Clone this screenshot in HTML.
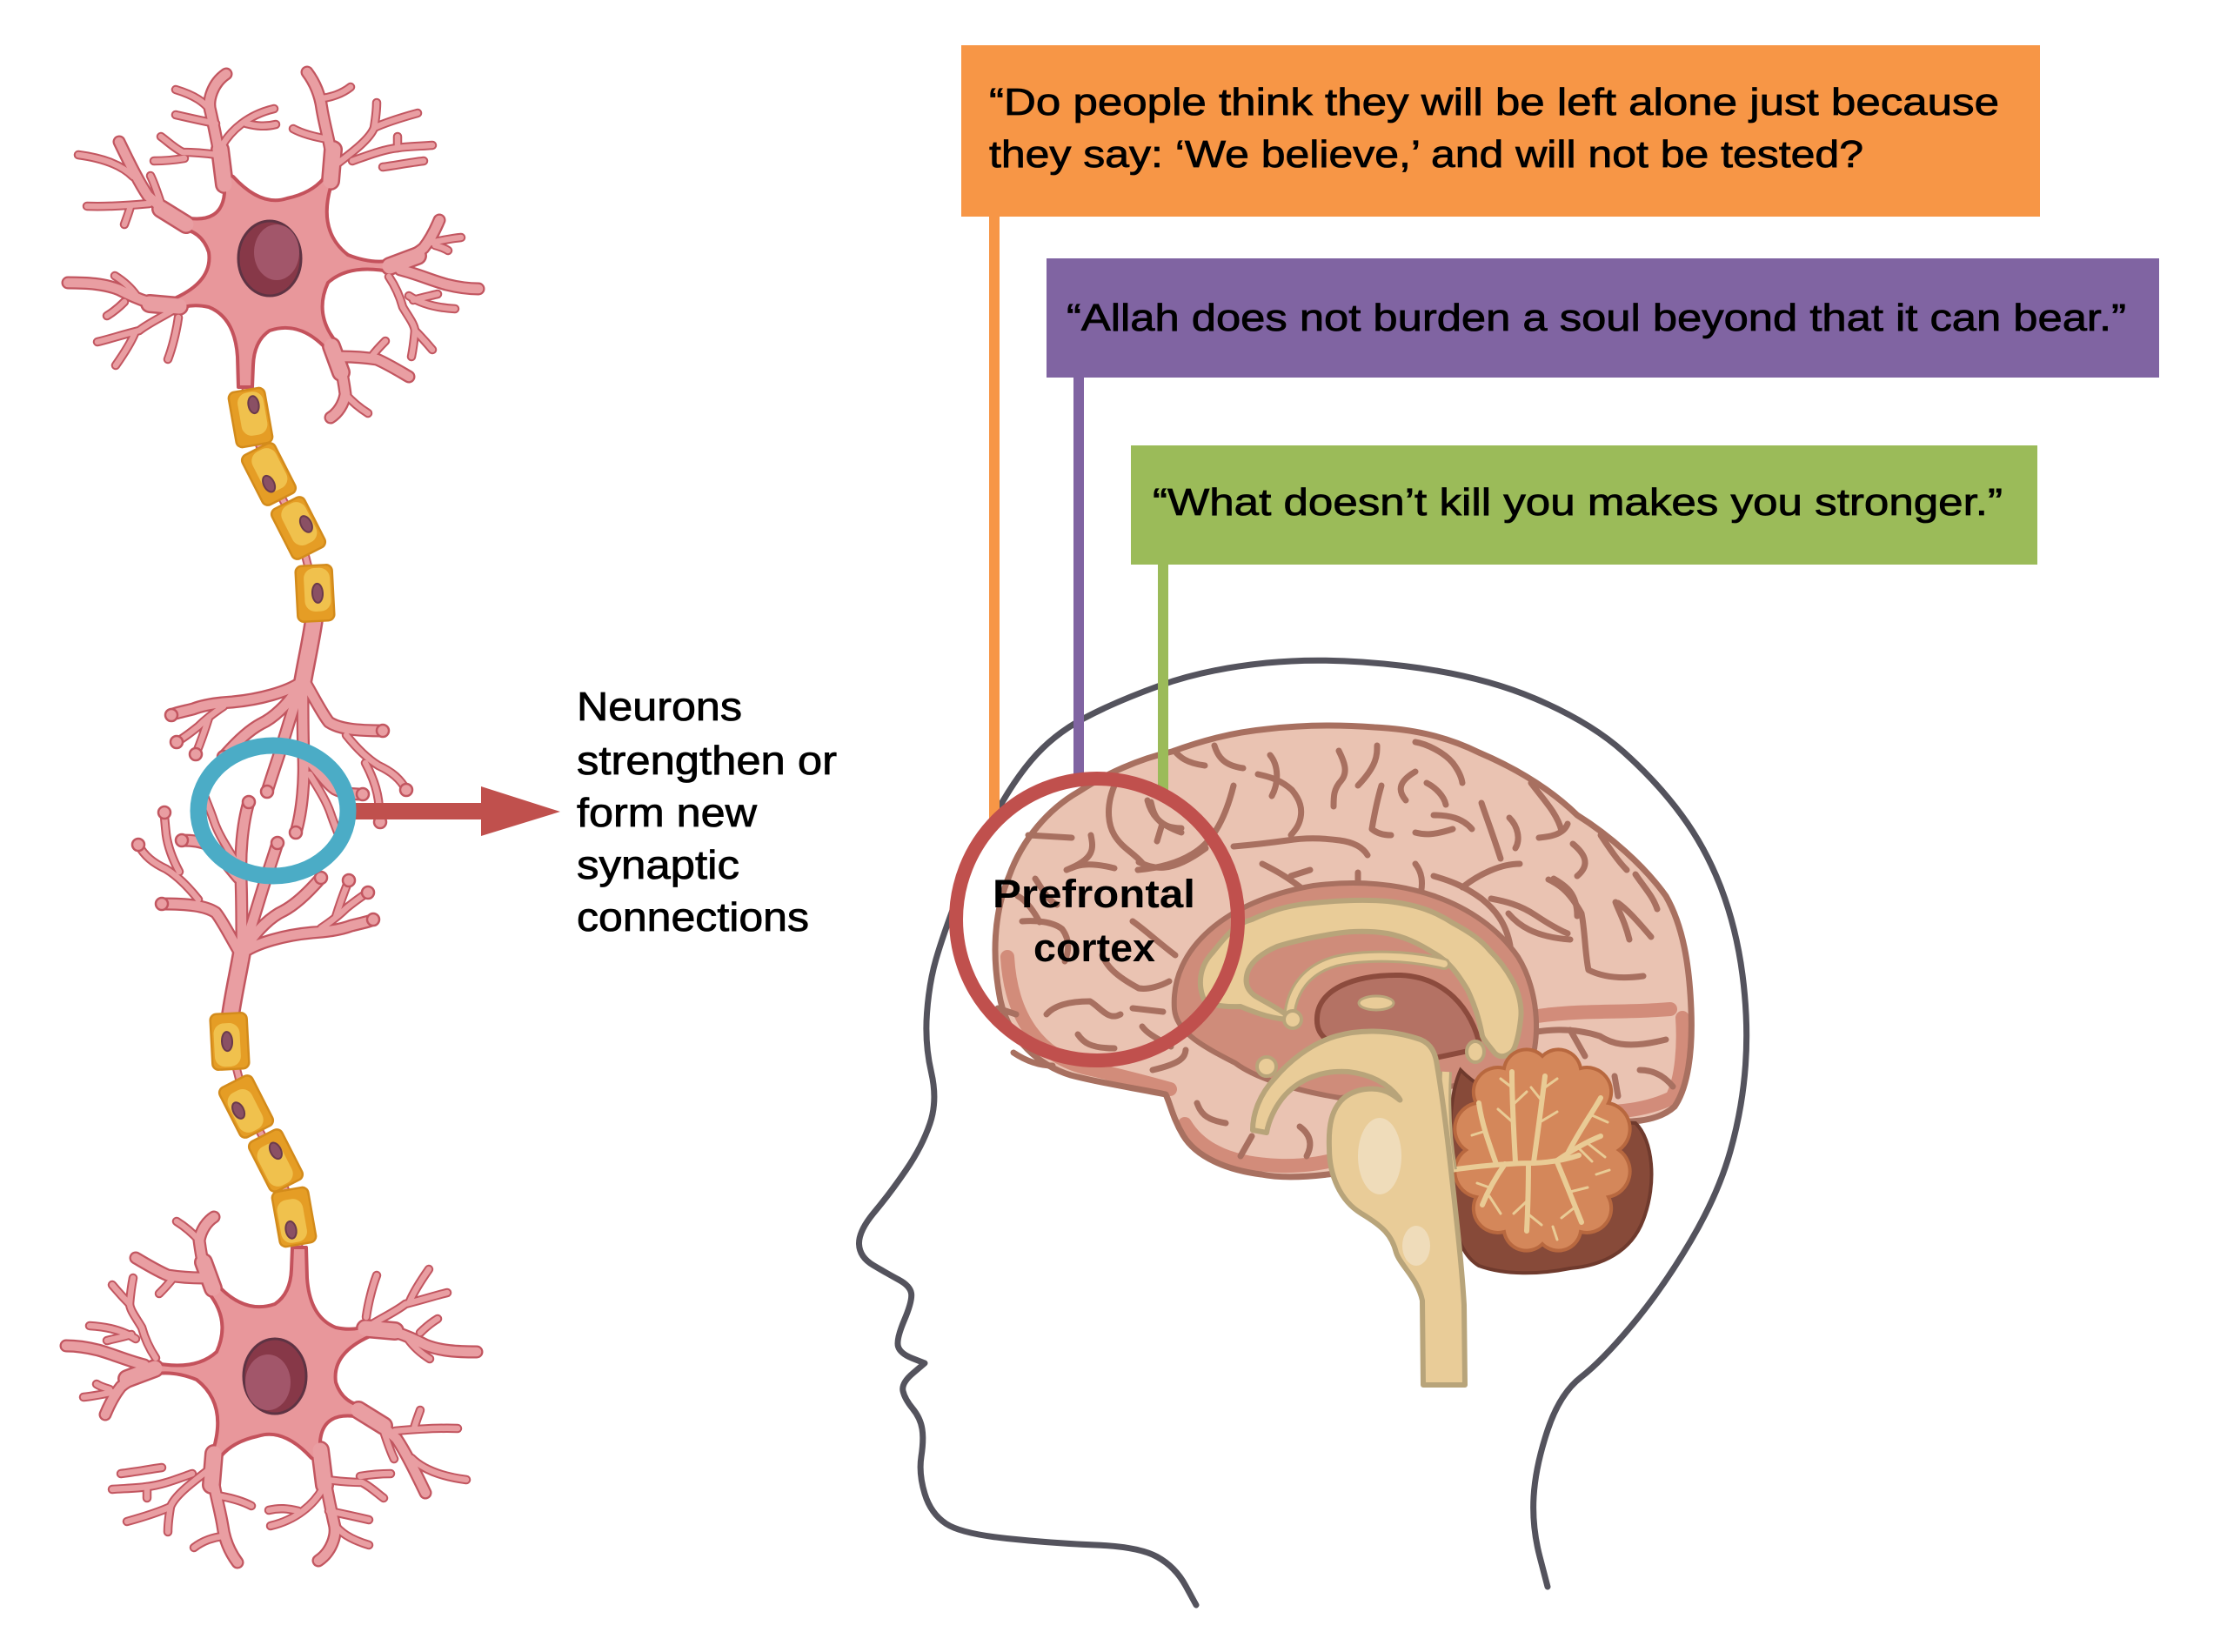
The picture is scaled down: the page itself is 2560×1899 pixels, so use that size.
<!DOCTYPE html>
<html>
<head>
<meta charset="utf-8">
<style>
html,body{margin:0;padding:0;background:#fff;}
svg{display:block;}
text{font-family:"Liberation Sans","DejaVu Sans",sans-serif;}
</style>
</head>
<body>
<svg width="2560" height="1899" viewBox="0 0 2560 1899" xmlns="http://www.w3.org/2000/svg" xmlns:xlink="http://www.w3.org/1999/xlink">
<rect x="0" y="0" width="2560" height="1899" fill="#ffffff"/>
<defs>
  <g id="dSide" fill="none" stroke-linecap="round" stroke-linejoin="round">
    <path d="M242,127 C235,118 225,110 202,103"/>
    <path d="M248,142 C238,140 228,138 202,132"/>
    <path d="M255,168 C265,150 285,132 315,125"/>
    <path d="M283,142 C295,145 305,146 317,143"/>
    <path d="M250,178 C235,176 222,175 210,175 C200,170 192,162 185,157"/>
    <path d="M212,182 C200,184 190,185 177,185"/>
    <path d="M370,113 C380,112 393,108 403,100"/>
    <path d="M377,160 C365,158 350,155 337,148"/>
    <path d="M388,188 C405,175 425,160 430,147 C432,135 433,125 433,118"/>
    <path d="M430,147 C445,140 462,135 480,130"/>
    <path d="M405,185 C425,178 440,172 457,170 C470,168 485,168 497,167"/>
    <path d="M457,170 L457,157"/>
    <path d="M440,192 C455,190 470,187 487,185"/>
    <path d="M153,203 C140,190 120,182 90,178"/>
    <path d="M172,234 C150,236 125,238 100,237"/>
    <path d="M150,237 C148,245 145,252 143,258"/>
    <path d="M187,240 C182,225 178,212 173,202"/>
    <path d="M157,340 C150,330 140,322 132,317"/>
    <path d="M143,347 C135,355 128,360 123,363"/>
    <path d="M198,357 C185,365 170,372 160,380 C140,385 125,390 112,393"/>
    <path d="M155,383 C150,395 140,410 133,420"/>
    <path d="M205,365 C203,380 198,400 193,413"/>
    <path d="M490,280 C505,277 518,274 530,273"/>
    <path d="M500,282 C507,284 512,286 515,288"/>
    <path d="M470,340 C485,350 505,354 523,355"/>
    <path d="M475,345 C485,342 495,340 503,338"/>
    <path d="M397,453 C405,462 415,470 423,475"/>
    <path d="M427,410 C433,402 438,397 443,392"/>
    <path d="M477,380 C485,388 492,396 497,402"/>
    <path d="M447,318 C455,330 460,342 463,353 C470,365 476,372 477,380 C476,392 475,400 473,410"/>
    <path d="M257,812 C245,820 235,828 228,835 C218,843 208,850 203,853"/>
    <path d="M240,825 C236,838 232,850 225,867"/>
    <path d="M398,845 C410,860 422,872 435,880 C450,887 460,895 467,908"/>
    <path d="M420,877 C428,892 433,905 435,920 C436,930 437,938 437,945"/>
    <path d="M356,890 C365,905 375,920 380,935 C385,950 390,960 393,970"/>
  </g>
  <g id="dMain" fill="none" stroke-linecap="round" stroke-linejoin="round">
    <path d="M256,200 C252,175 247,150 242,128 C238,115 245,95 260,85"/>
    <path d="M380,200 C385,180 375,155 370,125 C368,110 362,95 353,83"/>
    <path d="M210,258 C195,245 180,235 170,225 C160,210 150,190 137,163"/>
    <path d="M200,352 C180,352 160,345 137,333 C120,326 100,325 78,325"/>
    <path d="M452,303 C465,298 478,293 487,285 C495,275 500,265 505,253"/>
    <path d="M460,310 C480,315 495,322 513,327 C525,330 538,332 550,332"/>
    <path d="M380,395 C390,410 394,430 397,453 C395,465 388,475 380,480"/>
    <path d="M393,410 C405,410 420,411 433,413 C445,418 458,426 470,433"/>
    <path d="M345,785 C330,795 300,804 267,807 C250,808 235,810 222,815 C210,818 200,820 197,822"/>
    <path d="M340,795 C330,810 315,825 300,832 C285,840 270,855 257,870"/>
    <path d="M342,800 C335,820 328,845 320,870 C315,885 310,900 307,910"/>
    <path d="M348,790 C348,820 348,845 349,870 C350,895 348,930 340,957"/>
    <path d="M350,783 C360,800 370,820 378,830 C390,838 410,840 440,840"/>
    <path d="M352,870 C365,885 375,900 385,907 C395,912 405,913 417,913"/>
  </g>
  <g id="dTrunk" fill="none" stroke-linecap="round" stroke-linejoin="round">
    <path d="M258,212 L253,172"/>
    <path d="M380,208 L383,172"/>
    <path d="M214,258 L185,240"/>
    <path d="M206,352 L172,349"/>
    <path d="M448,306 L480,294"/>
    <path d="M381,398 L392,428"/>
    <path d="M361,712 C357,740 351,765 347,790"/>
  </g>
  <g id="seg">
    <rect x="-21" y="-32" width="42" height="64" rx="7" fill="#e59d25" stroke="#d38b1b" stroke-width="2.5"/>
    <rect x="-12" y="-29" width="30" height="50" rx="12" fill="#f0c14d"/>
  </g>
  <g id="half">
    <path d="M282,443 L288,480 L309,545 L343,607 L362,682 L361,715" fill="none" stroke="#c25660" stroke-width="10" stroke-linecap="round"/>
    <path d="M282,443 L288,480 L309,545 L343,607 L362,682 L361,715" fill="none" stroke="#e99ea2" stroke-width="6" stroke-linecap="round"/>
    <use href="#dSide" stroke="#c25660" stroke-width="10.5"/>
    <use href="#dMain" stroke="#c25660" stroke-width="15"/>
    <use href="#dTrunk" stroke="#c25660" stroke-width="22"/>
    <path d="M258,198 L268,203 Q300,238 330,228 Q358,222 372,205 L386,198 Q360,262 400,293 Q430,305 455,298 L452,313 Q402,302 377,325 Q360,362 388,395 L376,402 Q345,368 310,380 Q292,392 291,420 L290,445 L274,445 L273,410 Q270,365 240,353 Q218,348 200,357 L196,345 Q245,325 240,290 Q232,265 205,262 L212,250 Q255,258 258,222 Z" fill="#e8979b" stroke="#c4525c" stroke-width="4" stroke-linejoin="round"/>
    <use href="#dSide" stroke="#e99ea2" stroke-width="6.5"/>
    <use href="#dMain" stroke="#e99ea2" stroke-width="10.5"/>
    <use href="#dTrunk" stroke="#e99ea2" stroke-width="17"/>
    <ellipse cx="310" cy="297" rx="36" ry="43" fill="#873848" stroke="#5e3343" stroke-width="3"/>
    <ellipse cx="318" cy="290" rx="26" ry="32" fill="#a2566a"/>
    <g transform="translate(288,480) rotate(-10)"><use href="#seg"/><ellipse cx="6" cy="-14" rx="6" ry="10" fill="#8a5064" stroke="#6a3a4c" stroke-width="2"/></g>
    <g transform="translate(309,545) rotate(-27)"><use href="#seg"/><ellipse cx="-5" cy="10" rx="6" ry="10" fill="#8a5064" stroke="#6a3a4c" stroke-width="2"/></g>
    <g transform="translate(343,607) rotate(-27)"><use href="#seg"/><ellipse cx="10" cy="0" rx="6" ry="10" fill="#8a5064" stroke="#6a3a4c" stroke-width="2"/></g>
    <g transform="translate(362,682) rotate(-3)"><use href="#seg"/><ellipse cx="3" cy="0" rx="6" ry="11" fill="#8a5064" stroke="#6a3a4c" stroke-width="2"/></g>
    <g fill="#e99ea2" stroke="#c25660" stroke-width="2.5">
      <circle cx="197" cy="822" r="7"/>
      <circle cx="203" cy="853" r="7"/>
      <circle cx="225" cy="867" r="7"/>
      <circle cx="257" cy="870" r="7"/>
      <circle cx="307" cy="910" r="7"/>
      <circle cx="340" cy="957" r="7"/>
      <circle cx="440" cy="840" r="7"/>
      <circle cx="467" cy="908" r="7"/>
      <circle cx="437" cy="945" r="7"/>
      <circle cx="417" cy="913" r="7"/>
    </g>
  </g>
</defs>

<use href="#half"/>
<use href="#half" transform="rotate(180 313 939.5)"/>

<path d="M402,923 L553,923 L553,904 L644,933 L553,961 L553,942 L402,942 Z" fill="#C0504D"/>
<ellipse cx="314" cy="932" rx="86" ry="75" fill="none" stroke="#4BACC6" stroke-width="19"/>

<g fill="#000" stroke="#000" stroke-width="0.8" font-size="46">
  <text x="663" y="828" textLength="190" lengthAdjust="spacingAndGlyphs">Neurons</text>
  <text x="663" y="890" textLength="299" lengthAdjust="spacingAndGlyphs">strengthen or</text>
  <text x="663" y="950" textLength="207" lengthAdjust="spacingAndGlyphs">form new</text>
  <text x="663" y="1010" textLength="187" lengthAdjust="spacingAndGlyphs">synaptic</text>
  <text x="663" y="1070" textLength="267" lengthAdjust="spacingAndGlyphs">connections</text>
</g>

<path d="M1375,1845 L1363,1823 Q1351,1801 1330,1789.5 Q1309,1778 1259.5,1776 Q1210,1774 1157.5,1768.5 Q1105,1763 1087.5,1751.5 Q1070,1740 1063,1717 Q1056,1694 1059,1674.5 Q1062,1655 1060,1642.5 Q1058,1630 1049,1619 Q1040,1608 1038,1599 Q1036,1590 1049.5,1578.5 L1063,1567 L1049,1561.5 Q1035,1556 1032.5,1548 Q1030,1540 1039.5,1517.5 Q1049,1495 1047.5,1486.5 Q1046,1478 1033,1471 Q1020,1464 1004,1454.5 Q988,1445 987.5,1430 Q987,1415 1005,1393.5 Q1023,1372 1041.5,1345 Q1060,1318 1069,1291.5 Q1078,1265 1070.5,1232.5 Q1063,1200 1065.5,1165 Q1068,1130 1076,1102.5 Q1084,1075 1100,1033 Q1116,991 1138.5,947 Q1161,903 1185.5,874 Q1210,845 1245.5,826 Q1281,807 1333.5,788 Q1386,769 1456,762 Q1526,755 1613.5,765.5 Q1701,776 1764.5,803 Q1828,830 1866.5,864.5 Q1905,899 1933,937 Q1961,975 1978.5,1021 Q1996,1067 2003,1120.5 Q2010,1174 2006.5,1224 Q2003,1274 1989,1323.5 Q1975,1373 1943.5,1426.5 Q1912,1480 1877,1522 Q1842,1564 1817.5,1583 Q1793,1602 1779,1644 Q1765,1686 1763,1720.5 Q1761,1755 1770,1789.5 L1779,1824" fill="none" stroke="#54535d" stroke-width="7" stroke-linecap="round" stroke-linejoin="round"/>

<path d="M1231,1236 C1195,1225 1160,1195 1150,1150 C1140,1100 1142,1050 1160,1007 C1175,965 1205,930 1240,910 C1270,890 1310,872 1347,864 C1380,852 1415,842 1457,838 C1500,833 1540,833 1580,836 C1620,838 1660,845 1700,865 C1740,882 1780,905 1813,937 C1850,960 1890,995 1915,1030 C1935,1065 1942,1110 1944,1160 C1946,1210 1940,1250 1925,1272 C1905,1290 1870,1292 1835,1287 L1700,1250 L1560,1345 C1520,1352 1480,1356 1450,1350 C1410,1345 1375,1330 1360,1305 C1348,1285 1345,1268 1340,1258 C1300,1250 1265,1245 1231,1236 Z" fill="#eac3b2"/>
<g fill="none" stroke="#d28c7a" stroke-width="16" stroke-linecap="round">
  <path d="M1158,1100 C1162,1170 1195,1215 1250,1228 C1290,1237 1320,1245 1345,1252"/>
  <path d="M1362,1292 C1382,1325 1420,1338 1470,1340 C1500,1341 1530,1336 1550,1328"/>
  <path d="M1770,1272 C1825,1282 1880,1282 1922,1262 C1934,1240 1936,1200 1934,1170"/>
  <path d="M1755,1170 C1810,1160 1860,1165 1920,1160"/>
</g>
<path d="M1231,1236 C1195,1225 1160,1195 1150,1150 C1140,1100 1142,1050 1160,1007 C1175,965 1205,930 1240,910 C1270,890 1310,872 1347,864 C1380,852 1415,842 1457,838 C1500,833 1540,833 1580,836 C1620,838 1660,845 1700,865 C1740,882 1780,905 1813,937 C1850,960 1890,995 1915,1030 C1935,1065 1942,1110 1944,1160 C1946,1210 1940,1250 1925,1272 C1905,1290 1870,1292 1835,1287 L1700,1250 L1560,1345 C1520,1352 1480,1356 1450,1350 C1410,1345 1375,1330 1360,1305 C1348,1285 1345,1268 1340,1258 C1300,1250 1265,1245 1231,1236 Z" fill="none" stroke="#a87060" stroke-width="7" stroke-linejoin="round"/>

<g fill="none" stroke="#a87060" stroke-width="7" stroke-linecap="round" stroke-linejoin="round">
  <path d="M1281,903 C1270,930 1275,950 1281,960 C1290,975 1303,980 1314,993"/>
  <path d="M1254,960 C1257,975 1259,987 1226,1000"/>
  <path d="M1182,960 L1232,963"/>
  <path d="M1308,1000 C1330,998 1352,993 1370,982 C1391,970 1407,947 1418,903"/>
  <path d="M1319,920 C1323,935 1330,947 1358,957"/>
  <path d="M1336,947 L1330,967"/>
  <path d="M1350,863 C1356,870 1363,877 1385,880"/>
  <path d="M1396,857 C1400,870 1407,880 1429,883"/>
  <path d="M1446,890 C1460,893 1473,897 1485,908 C1495,920 1497,930 1495,940 C1493,950 1488,955 1484,960"/>
  <path d="M1418,973 C1430,972 1451,970 1480,966 C1500,963 1517,963 1540,966 C1555,968 1566,973 1572,983"/>
  <path d="M1451,993 C1465,1000 1478,1007 1495,1020"/>
  <path d="M1484,1007 L1506,1000"/>
  <path d="M1561,1003 L1561,1027"/>
  <path d="M1539,863 C1545,875 1550,887 1542,897 C1533,907 1533,915 1533,927"/>
  <path d="M1583,857 C1583,868 1583,880 1561,903"/>
  <path d="M1588,903 C1583,920 1580,935 1577,953 C1583,958 1590,960 1599,960"/>
  <path d="M1627,887 C1610,897 1605,907 1616,920"/>
  <path d="M1627,853 C1640,855 1660,865 1670,877 C1676,885 1680,893 1681,900"/>
  <path d="M1648,937 C1665,937 1681,940 1692,953"/>
  <path d="M1627,957 C1638,960 1648,960 1670,953"/>
  <path d="M1627,993 C1634,1002 1637,1013 1632,1033"/>
  <path d="M1648,1007 C1665,1012 1681,1017 1703,1033 C1718,1045 1731,1060 1736,1087"/>
  <path d="M1681,1020 C1700,1005 1725,993 1747,993"/>
  <path d="M1703,923 C1708,938 1714,953 1725,987"/>
  <path d="M1769,963 C1780,962 1797,960 1802,947"/>
  <path d="M1786,1010 C1800,1018 1813,1027 1813,1053"/>
  <path d="M1857,1037 C1862,1050 1868,1060 1873,1080"/>
  <path d="M1808,970 C1820,980 1830,993 1813,1007"/>
  <path d="M1714,1033 C1730,1036 1747,1040 1765,1052 C1780,1062 1790,1068 1802,1073"/>
  <path d="M1734,1050 C1745,1063 1763,1077 1805,1080"/>
  <path d="M1780,1011 C1795,1018 1805,1027 1818,1050 C1822,1070 1822,1096 1826,1115 C1840,1122 1860,1126 1889,1122"/>
  <path d="M1860,1038 C1870,1045 1881,1057 1898,1077"/>
  <path d="M1755,1188 C1775,1184 1805,1180 1839,1191 C1850,1198 1868,1207 1915,1195"/>
  <path d="M1805,1184 L1822,1214"/>
  <path d="M1885,1230 C1895,1230 1910,1233 1923,1249"/>
  <path d="M1856,1237 L1860,1260"/>
  <path d="M1760,900 C1775,920 1790,935 1795,955"/>
  <path d="M1840,960 C1850,975 1860,990 1870,1000"/>
  <path d="M1376,1268 C1380,1278 1384,1287 1409,1291"/>
  <path d="M1439,1306 L1426,1329"/>
  <path d="M1494,1295 C1505,1303 1510,1314 1502,1329"/>
  <path d="M1175,1059 C1190,1058 1210,1059 1221,1068 C1231,1082 1228,1095 1224,1105"/>
  <path d="M1203,1166 C1210,1158 1224,1151 1253,1151 C1265,1158 1274,1174 1288,1166"/>
  <path d="M1239,1189 C1245,1198 1253,1205 1281,1205"/>
  <path d="M1302,1159 L1337,1163"/>
  <path d="M1147,1159 L1168,1166"/>
  <path d="M1231,998 C1240,994 1253,991 1281,998"/>
  <path d="M1309,991 C1325,998 1344,1006 1386,975"/>
  <path d="M1323,922 C1326,935 1330,952 1358,952"/>
  <path d="M1302,1059 C1315,1068 1330,1082 1351,1098"/>
  <path d="M1267,1098 C1272,1110 1281,1121 1309,1136 C1320,1138 1335,1133 1344,1128"/>
  <path d="M1190,1010 C1200,1025 1205,1035 1215,1040"/>
  <path d="M1165,1210 C1180,1220 1195,1225 1210,1225"/>
  <path d="M1313,1180 C1318,1187 1325,1191 1346,1203"/>
  <path d="M1363,1207 C1362,1215 1359,1222 1325,1230"/>
  <path d="M1460,868 C1470,880 1470,900 1462,915"/>
  <path d="M1640,900 C1650,905 1660,915 1662,925"/>
  <path d="M1735,940 C1745,950 1748,965 1742,975"/>
  <path d="M1880,1005 C1890,1020 1900,1030 1905,1045"/>
  <path d="M1170,1030 C1180,1035 1190,1050 1195,1060"/>
</g>

<path d="M1350,1160 C1345,1090 1410,1035 1510,1018 C1610,1005 1700,1035 1745,1100 C1770,1140 1772,1200 1755,1235 L1660,1250 L1540,1262 C1480,1252 1440,1237 1420,1222 C1380,1202 1352,1185 1350,1160 Z" fill="#cf8c7a" stroke="#a87060" stroke-width="6"/>

<path d="M1514,1170 C1515,1138 1555,1120 1610,1121 C1660,1123 1692,1158 1702,1205 L1650,1216 C1600,1198 1560,1198 1540,1202 C1520,1196 1513,1185 1514,1170 Z" fill="#b47264" stroke="#8c4b3d" stroke-width="6"/>
<ellipse cx="1582" cy="1153" rx="20" ry="8" fill="#e9cc98" stroke="#b8a47a" stroke-width="3"/>

<path d="M1384,1149 C1376,1130 1380,1110 1393,1096 C1410,1075 1420,1062 1439,1057 C1465,1045 1485,1040 1510,1038 C1540,1035 1570,1034 1595,1036 C1630,1040 1650,1048 1670,1061 C1690,1072 1702,1080 1712,1092 C1725,1105 1732,1115 1738,1126 C1746,1140 1750,1158 1748,1172 C1746,1190 1742,1205 1738,1209 C1730,1216 1722,1216 1717,1209 C1710,1200 1706,1196 1704,1191 C1700,1170 1695,1155 1687,1138 C1675,1118 1665,1105 1649,1096 C1630,1084 1615,1077 1595,1073 C1575,1070 1556,1070 1536,1073 C1510,1077 1490,1081 1468,1088 C1452,1095 1440,1104 1435,1115 C1430,1128 1433,1138 1443,1145 C1460,1155 1475,1162 1485,1172 C1465,1172 1445,1165 1426,1157 C1405,1158 1392,1155 1384,1149 Z" fill="#e9cc98" stroke="#b8a47a" stroke-width="6" stroke-linejoin="round"/>
<path d="M1482,1170 C1484,1140 1500,1115 1535,1105 C1570,1097 1620,1098 1660,1108" fill="none" stroke="#b8a47a" stroke-width="14" stroke-linecap="round"/>
<path d="M1482,1170 C1484,1140 1500,1115 1535,1105 C1570,1097 1620,1098 1660,1108" fill="none" stroke="#e9cc98" stroke-width="8" stroke-linecap="round"/>
<circle cx="1486" cy="1172" r="10" fill="#e9cc98" stroke="#b8a47a" stroke-width="4"/>

<path d="M1679,1230 C1710,1262 1770,1282 1830,1288 L1880,1291 C1900,1310 1905,1360 1889,1402 C1875,1440 1840,1455 1805,1458 C1770,1465 1730,1466 1700,1455 C1675,1440 1668,1400 1668,1360 C1666,1310 1665,1260 1679,1230 Z" fill="#874a39" stroke="#6f3a2d" stroke-width="4"/>
<path d="M1773,1214 A26,26 0 0 1 1817,1228 A28,28 0 0 1 1849,1268 A30,30 0 0 1 1861,1322 A30,30 0 0 1 1849,1376 A28,28 0 0 1 1817,1416 A26,26 0 0 1 1773,1430 A26,26 0 0 1 1729,1416 A28,28 0 0 1 1697,1376 A30,30 0 0 1 1685,1322 A30,30 0 0 1 1697,1268 A28,28 0 0 1 1729,1228 A26,26 0 0 1 1773,1214 Z" fill="#d4875a" stroke="#b8683f" stroke-width="4"/>
<g fill="none" stroke="#e9cb95" stroke-linecap="round">
  <g stroke-width="6">
    <path d="M1668,1345 C1700,1340 1740,1337 1763,1337 C1785,1336 1800,1333 1815,1328"/>
    <path d="M1742,1336 C1740,1300 1738,1265 1738,1232"/>
    <path d="M1763,1336 C1768,1300 1772,1270 1776,1237"/>
    <path d="M1790,1334 C1810,1320 1825,1312 1840,1306"/>
    <path d="M1790,1336 C1800,1360 1810,1385 1818,1405"/>
    <path d="M1757,1338 C1757,1370 1756,1395 1755,1415"/>
    <path d="M1730,1338 C1718,1355 1710,1370 1704,1385"/>
    <path d="M1720,1338 C1710,1310 1703,1290 1700,1268"/>
    <path d="M1800,1330 C1815,1300 1830,1280 1840,1262"/>
  </g>
  <g stroke-width="3">
    <path d="M1739,1290 L1722,1275"/><path d="M1739,1270 L1755,1255"/>
    <path d="M1770,1290 L1790,1278"/><path d="M1772,1265 L1760,1250"/>
    <path d="M1815,1320 L1830,1335"/><path d="M1830,1282 L1848,1290"/>
    <path d="M1805,1370 L1825,1365"/><path d="M1810,1388 L1795,1400"/>
    <path d="M1756,1380 L1740,1395"/><path d="M1756,1395 L1772,1408"/>
    <path d="M1712,1365 L1698,1360"/><path d="M1708,1300 L1692,1305"/>
    <path d="M1826,1315 L1845,1330"/><path d="M1712,1375 L1725,1395"/>
    <path d="M1738,1250 L1725,1240"/><path d="M1776,1250 L1790,1240"/>
    <path d="M1835,1350 L1850,1345"/><path d="M1785,1410 L1790,1425"/>
  </g>
</g>
<path d="M1662,1232 C1660,1270 1662,1310 1668,1345" fill="none" stroke="#b8a47a" stroke-width="14"/>
<path d="M1662,1232 C1660,1270 1662,1310 1668,1345" fill="none" stroke="#e9cc98" stroke-width="8"/>

<path d="M1536,1191 C1560,1184 1595,1182 1633,1195 C1645,1200 1650,1210 1652,1225 C1658,1260 1663,1300 1668,1345 C1674,1400 1680,1450 1683,1500 L1684,1592 L1636,1592 L1635,1495 C1630,1470 1610,1455 1605,1440 C1600,1420 1590,1410 1565,1395 C1540,1380 1528,1350 1528,1320 C1527,1295 1530,1275 1545,1262 C1560,1250 1585,1248 1600,1258 C1607,1262 1612,1268 1608,1262 C1595,1245 1575,1235 1550,1232 C1520,1230 1495,1240 1478,1258 C1465,1272 1458,1290 1456,1302 L1440,1299 C1440,1280 1448,1258 1465,1240 C1480,1222 1505,1200 1536,1191 Z" fill="#e9cc98" stroke="#b8a47a" stroke-width="6" stroke-linejoin="round"/>
<ellipse cx="1586" cy="1329" rx="25" ry="44" fill="#efdcba"/>
<ellipse cx="1628" cy="1432" rx="16" ry="23" fill="#efdcba"/>
<circle cx="1456" cy="1226" r="11" fill="#e9cc98" stroke="#b8a47a" stroke-width="4"/>
<ellipse cx="1696" cy="1209" rx="10" ry="12" fill="#e9cc98" stroke="#b8a47a" stroke-width="4"/>

<rect x="1137" y="248" width="12" height="695" fill="#F79646"/>
<rect x="1234" y="432" width="12" height="465" fill="#8064A2"/>
<rect x="1331" y="648" width="12" height="263" fill="#9BBB59"/>

<circle cx="1261" cy="1057" r="162" fill="none" stroke="#C0504D" stroke-width="16"/>

<g fill="#000" font-weight="bold" font-size="45">
  <text x="1141" y="1043" textLength="233" lengthAdjust="spacingAndGlyphs">Prefrontal</text>
  <text x="1188" y="1105" textLength="140" lengthAdjust="spacingAndGlyphs">cortex</text>
</g>

<rect x="1105" y="52" width="1240" height="197" fill="#F79646"/>
<rect x="1203" y="297" width="1279" height="137" fill="#8064A2"/>
<rect x="1300" y="512" width="1042" height="137" fill="#9BBB59"/>
<g fill="#000" stroke="#000" stroke-width="0.8" font-size="44">
  <text x="1137" y="132" textLength="1161" lengthAdjust="spacingAndGlyphs">“Do people think they will be left alone just because</text>
  <text x="1137" y="192" textLength="1005" lengthAdjust="spacingAndGlyphs">they say: ‘We believe,’ and will not be tested?</text>
  <text x="1226" y="380" textLength="1218" lengthAdjust="spacingAndGlyphs">“Allah does not burden a soul beyond that it can bear.”</text>
  <text x="1325" y="592" textLength="977" lengthAdjust="spacingAndGlyphs">“What doesn’t kill you makes you stronger.”</text>
</g>
</svg>
</body>
</html>
